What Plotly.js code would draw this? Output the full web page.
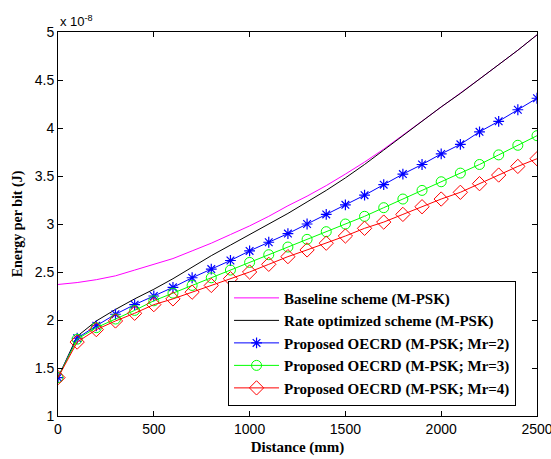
<!DOCTYPE html>
<html>
<head>
<meta charset="utf-8">
<script src="https://cdn.plot.ly/plotly-3.0.1.min.js"></script>
<style>html,body{margin:0;padding:0;background:#fff;}#chart{width:551px;height:459px;}</style>
</head>
<body>
<div id="chart"></div>
<script>
// Distance (mm)
const distance = [0,100,200,300,400,500,600,700,800,900,1000,1100,1200,1300,1400,1500,1600,1700,1800,1900,2000,2100,2200,2300,2400,2500];
// Energy per bit, in units of 1e-8 J
const baseline = [2.37,2.39,2.42,2.46,2.52,2.58,2.64,2.72,2.80,2.89,2.98,3.08,3.19,3.29,3.40,3.52,3.645,3.78,3.925,4.07,4.22,4.36,4.51,4.66,4.81,4.97];
const rateOpt  = [1.40,1.83,1.99,2.11,2.22,2.32,2.43,2.55,2.67,2.78,2.89,3.00,3.11,3.23,3.35,3.48,3.62,3.77,3.92,4.07,4.22,4.36,4.51,4.66,4.81,4.97];
const oecrdMr2 = [1.40,1.81,1.94,2.06,2.16,2.25,2.34,2.44,2.53,2.62,2.72,2.81,2.90,3.00,3.10,3.20,3.30,3.41,3.52,3.62,3.73,3.83,3.96,4.07,4.19,4.31];
const oecrdMr3 = [1.40,1.80,1.92,2.01,2.10,2.20,2.28,2.36,2.44,2.52,2.60,2.68,2.76,2.84,2.92,3.00,3.08,3.17,3.26,3.35,3.44,3.53,3.62,3.72,3.82,3.92];
const oecrdMr4 = [1.40,1.77,1.90,1.99,2.07,2.16,2.22,2.29,2.36,2.43,2.50,2.58,2.66,2.73,2.80,2.875,2.955,3.02,3.10,3.18,3.26,3.33,3.42,3.51,3.60,3.68];
const seriesNames = ["Baseline scheme (M-PSK)","Rate optimized scheme (M-PSK)","Proposed OECRD (M-PSK; Mr=2)","Proposed OECRD (M-PSK; Mr=3)","Proposed OECRD (M-PSK; Mr=4)"];
const xTicks = [0,500,1000,1500,2000,2500];
const yTicks = [1,1.5,2,2.5,3,3.5,4,4.5,5];

const traces = [
  {x:distance,y:baseline,name:seriesNames[0],mode:"lines",line:{color:"#ff00ff",width:1}},
  {x:distance,y:rateOpt,name:seriesNames[1],mode:"lines",line:{color:"#000000",width:1}},
  {x:distance,y:oecrdMr2,name:seriesNames[2],mode:"lines+markers",line:{color:"#0000ff",width:1},
   marker:{symbol:"asterisk-open",size:9,color:"#0000ff",line:{color:"#0000ff",width:1.2}}},
  {x:distance,y:oecrdMr3,name:seriesNames[3],mode:"lines+markers",line:{color:"#00ff00",width:1},
   marker:{symbol:"circle-open",size:10,color:"#00ff00",line:{color:"#00ff00",width:1}}},
  {x:distance,y:oecrdMr4,name:seriesNames[4],mode:"lines+markers",line:{color:"#ff0000",width:1},
   marker:{symbol:"diamond-open",size:11,color:"#ff0000",line:{color:"#ff0000",width:1}}}
];

const axisCommon = {showline:true,linecolor:"#000",linewidth:1,mirror:"ticks",ticks:"inside",ticklen:5,tickcolor:"#000",
  showgrid:false,zeroline:false,ticklabeloverflow:"allow",tickfont:{family:"Liberation Sans, Arial, sans-serif",size:14,color:"#000"}};

const layout = {
  width:551,height:459,
  margin:{l:58,r:14,t:32,b:43},
  paper_bgcolor:"#fff",plot_bgcolor:"#fff",
  showlegend:true,
  xaxis:Object.assign({},axisCommon,{range:[0,2500],tickvals:xTicks,ticktext:xTicks.map(String),
    title:{text:"<b>Distance (mm)</b>",font:{family:"Liberation Serif, Times New Roman, serif",size:15,color:"#000"},standoff:5}}),
  yaxis:Object.assign({},axisCommon,{range:[1,5],tickvals:yTicks,ticktext:yTicks.map(String),
    title:{text:"<b>Energy per bit (J)</b>",font:{family:"Liberation Serif, Times New Roman, serif",size:14,color:"#000"},standoff:8}}),
  legend:{x:0.355,y:0.027,xanchor:"left",yanchor:"bottom",bgcolor:"#fff",bordercolor:"#000",borderwidth:1,
    font:{family:"Liberation Serif, Times New Roman, serif",size:15,color:"#000"},itemwidth:45,tracegroupgap:0},
  annotations:[{xref:"paper",yref:"paper",x:0,y:1,xanchor:"left",yanchor:"bottom",showarrow:false,yshift:1,
    text:"x 10<sup>-8</sup>",font:{family:"Liberation Sans, Arial, sans-serif",size:13,color:"#000"}}]
};
traces.forEach(t=>{t.name = "<b>"+t.name+"</b>";});
Plotly.newPlot("chart",traces,layout,{displayModeBar:false,staticPlot:true});
</script>
</body>
</html>
